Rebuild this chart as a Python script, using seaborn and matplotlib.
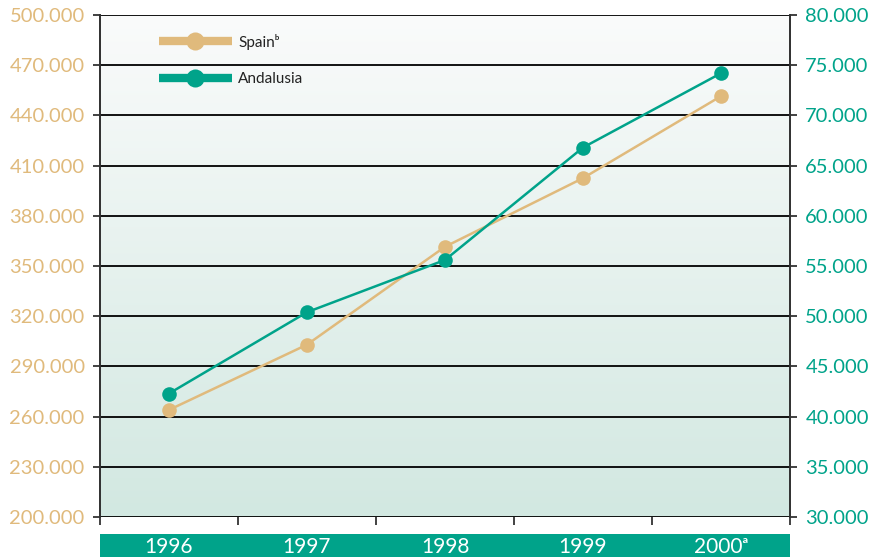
import numpy as np
import pandas as pd
import matplotlib
matplotlib.use("Agg")
import matplotlib.pyplot as plt
import matplotlib.colors as mcolors
from matplotlib.lines import Line2D
from matplotlib.ticker import FuncFormatter
import seaborn as sns

years = ["1996", "1997", "1998", "1999", "2000"]
year_labels = ["1996", "1997", "1998", "1999", "2000ᵃ"]
series_labels = ["Spainᵇ", "Andalusia"]
spain = [264000, 303000, 361500, 402500, 451500]
andalusia = [42300, 50400, 55600, 66800, 74200]

tan = "#e0ba7c"
teal = "#00a38a"

sns.set_style("white")
plt.rcParams['font.family'] = ['Lato', 'DejaVu Sans']

fig = plt.figure(figsize=(8.7, 5.58), dpi=100)
ax = fig.add_axes([100 / 870, 41 / 558, 690 / 870, 502 / 558])
ax2 = ax.twinx()

# gradient background
grad = np.linspace(0, 1, 256).reshape(-1, 1)
cmap = mcolors.LinearSegmentedColormap.from_list("bg", ["#d2e8e1", "#fafbfb"])
ax.imshow(grad, cmap=cmap, aspect="auto", extent=[0, 1, 0, 1],
          transform=ax.transAxes, origin="lower", zorder=0)

df = pd.DataFrame({"year": years, "spain": spain, "andalusia": andalusia})

sns.lineplot(data=df, x="year", y="spain", ax=ax, color=tan, lw=1.8,
             marker="o", markersize=10.5, markeredgewidth=0, zorder=3)
sns.lineplot(data=df, x="year", y="andalusia", ax=ax2, color=teal, lw=1.8,
             marker="o", markersize=10.5, markeredgewidth=0, zorder=3)

fmt = FuncFormatter(lambda v, p: f"{v:,.0f}".replace(",", "."))

ax.set_ylim(200000, 500000)
ax.set_yticks(np.arange(200000, 500001, 30000))
ax.yaxis.set_major_formatter(fmt)
ax2.set_ylim(30000, 80000)
ax2.set_yticks(np.arange(30000, 80001, 5000))
ax2.yaxis.set_major_formatter(fmt)

ax.set_xlim(-0.5, 4.5)
ax.set_xticks(np.arange(-0.5, 4.6, 1))
ax.set_xticklabels([])
ax.set_xlabel("")
ax.set_ylabel("")
ax2.set_ylabel("")

ax.grid(axis="y", color="black", lw=1.3, zorder=1)
ax.set_axisbelow(False)
for gl in ax.get_ygridlines():
    gl.set_zorder(1)

ax.tick_params(axis="y", colors="#333333", labelcolor=tan, labelsize=14.5,
               direction="out", length=5, width=1.3, left=True, pad=6)
ax2.tick_params(axis="y", colors="#333333", labelcolor=teal, labelsize=14.5,
                direction="out", length=5, width=1.3, right=True, pad=6)
ax.tick_params(axis="x", colors="#333333", direction="out", length=6,
               width=1.3, bottom=True)

for a in (ax, ax2):
    for s in ["top", "bottom"]:
        a.spines[s].set_visible(False)
    a.spines["left"].set_color("#333333")
    a.spines["right"].set_color("#333333")
    a.spines["left"].set_linewidth(1.3)
    a.spines["right"].set_linewidth(1.3)
ax2.patch.set_visible(False)

# green band with year labels
band = fig.add_axes([100 / 870, 1 / 558, 690 / 870, 23 / 558])
band.set_facecolor(teal)
band.set_xlim(-0.5, 4.5)
band.set_ylim(0, 1)
for s in band.spines.values():
    s.set_visible(False)
band.set_xticks([])
band.set_yticks([])
for i, lab in enumerate(year_labels):
    band.text(i, 0.45, lab, color="white", fontsize=15, ha="center", va="center")

# legend
handles = [
    Line2D([], [], color=tan, lw=6, marker="o", markersize=13, markeredgewidth=0,
           solid_capstyle="butt"),
    Line2D([], [], color=teal, lw=6, marker="o", markersize=13, markeredgewidth=0,
           solid_capstyle="butt"),
]
leg = ax.legend(handles, series_labels, loc="upper left",
                bbox_to_anchor=(0.065, 0.99), frameon=False, fontsize=11,
                handlelength=4.8, handletextpad=0.4, labelspacing=1.45)
for t in leg.get_texts():
    t.set_color("#222222")

fig.savefig("out.png", dpi=100)
